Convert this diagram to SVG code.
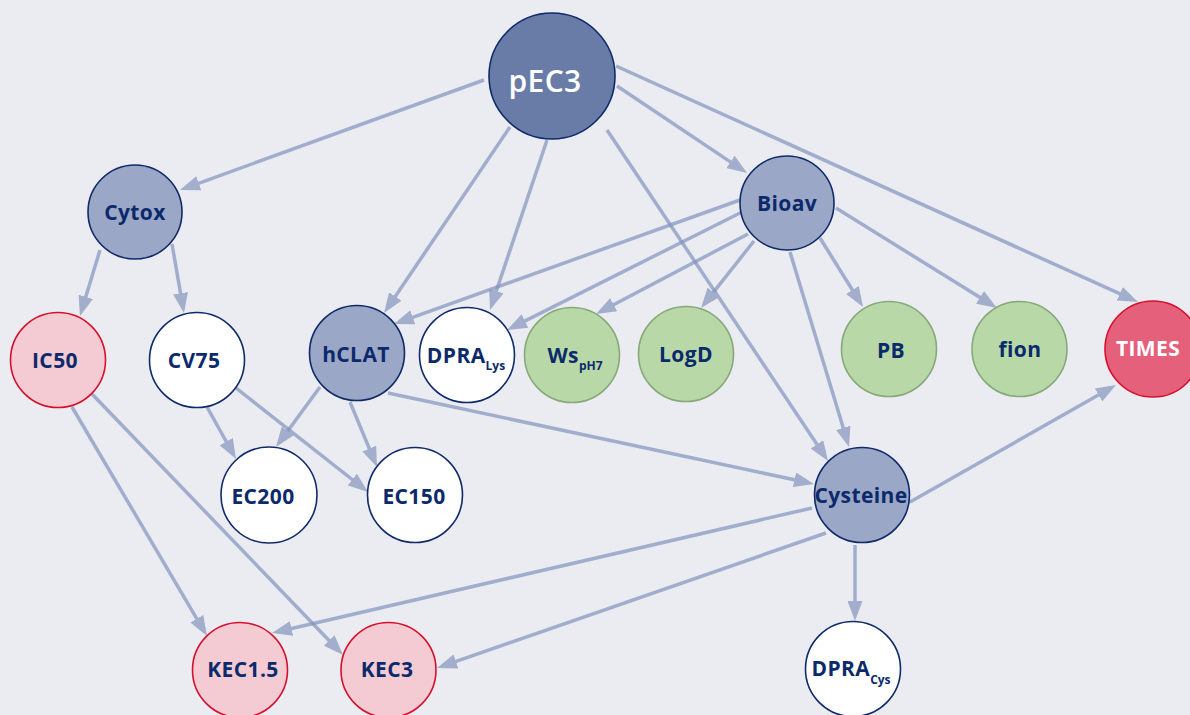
<svg xmlns="http://www.w3.org/2000/svg" width="1190" height="715" viewBox="0 0 1190 715">
<style>
.e{stroke:#8193bd;stroke-opacity:0.7;stroke-width:3.5;fill:none;marker-end:url(#ah)}
.n circle{stroke-width:1.6}
.mid circle{fill:#9ba7c6;stroke:#0f2a6a}
.wht circle{fill:#ffffff;stroke:#0f2a6a}
.pnk circle{fill:#f5cbd3;stroke:#d6102c}
.grn circle{fill:#b8d9a7;stroke:#87a97a}
.red circle{fill:#e4607b;stroke:#d6102c}
.top circle{fill:#697ca8;stroke:#0f2a6a}
text{font-family:"Open Sans","Liberation Sans",sans-serif;font-weight:700;font-size:21px;letter-spacing:0.4px;fill:#0b2a6b;text-anchor:middle}
.red text,.top text{fill:#ffffff}
.sub{font-size:12px;letter-spacing:0}
</style>
<defs>
<marker id="ah" markerUnits="userSpaceOnUse" markerWidth="20" markerHeight="15" refX="12" refY="7.5" orient="auto">
<path d="M0,0 L20,7.5 L0,15 z" fill="#a2aecc"/>
</marker>
</defs>
<rect width="1190" height="715" fill="#ebecf2"/>
<g id="edges">
<line class="e" x1="484" y1="80" x2="187.5" y2="187.3"/>
<line class="e" x1="510" y1="127" x2="388.5" y2="306.4"/>
<line class="e" x1="547" y1="140" x2="492.5" y2="302.4"/>
<line class="e" x1="607" y1="130" x2="823.6" y2="454.3"/>
<line class="e" x1="617" y1="86" x2="740.4" y2="168.6"/>
<line class="e" x1="616" y1="66" x2="1130.7" y2="298.7"/>
<line class="e" x1="100" y1="250" x2="82.3" y2="308.3"/>
<line class="e" x1="172" y1="244" x2="182.6" y2="305.1"/>
<line class="e" x1="740" y1="200" x2="401.5" y2="321.3"/>
<line class="e" x1="742" y1="212" x2="514.2" y2="326.4"/>
<line class="e" x1="748" y1="234" x2="603.1" y2="310.3"/>
<line class="e" x1="754" y1="241" x2="706" y2="301.7"/>
<line class="e" x1="790" y1="252" x2="846.7" y2="439.3"/>
<line class="e" x1="820" y1="238" x2="858.8" y2="300.2"/>
<line class="e" x1="836" y1="208" x2="990.2" y2="303.8"/>
<line class="e" x1="320" y1="387" x2="280.7" y2="440.6"/>
<line class="e" x1="350" y1="402" x2="373.9" y2="459.6"/>
<line class="e" x1="388" y1="393" x2="806.2" y2="482.3"/>
<line class="e" x1="207" y1="407" x2="232.1" y2="452"/>
<line class="e" x1="236" y1="388" x2="361.7" y2="487"/>
<line class="e" x1="72" y1="407" x2="202.9" y2="629.1"/>
<line class="e" x1="92" y1="394" x2="337.5" y2="649.2"/>
<line class="e" x1="812" y1="508" x2="279.8" y2="631.2"/>
<line class="e" x1="826" y1="533" x2="444.6" y2="665.4"/>
<line class="e" x1="855" y1="545" x2="855" y2="613"/>
<line class="e" x1="910" y1="502" x2="1109" y2="389"/>
</g>
<g id="pEC3" class="n top"><circle cx="552" cy="76" r="63"/><text x="545" y="92" style="font-size:30px;font-weight:600">pEC3</text></g>
<g id="Cytox" class="n mid"><circle cx="135" cy="212" r="47"/><text x="135" y="220">Cytox</text></g>
<g id="Bioav" class="n mid"><circle cx="787" cy="203" r="47"/><text x="787" y="211">Bioav</text></g>
<g id="hCLAT" class="n mid"><circle cx="357" cy="353" r="47.5"/><text x="356" y="362">hCLAT</text></g>
<g id="IC50" class="n pnk"><circle cx="58" cy="360" r="47.5"/><text x="55" y="368">IC50</text></g>
<g id="CV75" class="n wht"><circle cx="197" cy="360" r="47.5"/><text x="194" y="368">CV75</text></g>
<g id="DPRA_Lys" class="n wht"><circle cx="467" cy="355" r="47.5"/><text x="466" y="363">DPRA<tspan class="sub" dy="7">Lys</tspan></text></g>
<g id="Ws_pH7" class="n grn"><circle cx="572" cy="355" r="47.5"/><text x="575" y="363">Ws<tspan class="sub" dy="7">pH7</tspan></text></g>
<g id="LogD" class="n grn"><circle cx="686" cy="354" r="47.5"/><text x="686" y="362">LogD</text></g>
<g id="PB" class="n grn"><circle cx="889" cy="349" r="47.5"/><text x="891" y="358">PB</text></g>
<g id="fion" class="n grn"><circle cx="1019.5" cy="349" r="47.5"/><text x="1020" y="357">fion</text></g>
<g id="TIMES" class="n red"><circle cx="1153" cy="349" r="48"/><text x="1148" y="356">TIMES</text></g>
<g id="EC200" class="n wht"><circle cx="269" cy="495" r="48"/><text x="263" y="504">EC200</text></g>
<g id="EC150" class="n wht"><circle cx="415" cy="495" r="47.5"/><text x="414" y="504">EC150</text></g>
<g id="Cysteine" class="n mid"><circle cx="862" cy="495" r="47.5"/><text x="861" y="503">Cysteine</text></g>
<g id="KEC1.5" class="n pnk"><circle cx="240" cy="670" r="47.5"/><text x="243" y="677">KEC1.5</text></g>
<g id="KEC3" class="n pnk"><circle cx="388.5" cy="670" r="47.5"/><text x="387" y="677">KEC3</text></g>
<g id="DPRA_Cys" class="n wht"><circle cx="853" cy="669" r="47.5"/><text x="851" y="676">DPRA<tspan class="sub" dy="8">Cys</tspan></text></g>
</svg>
